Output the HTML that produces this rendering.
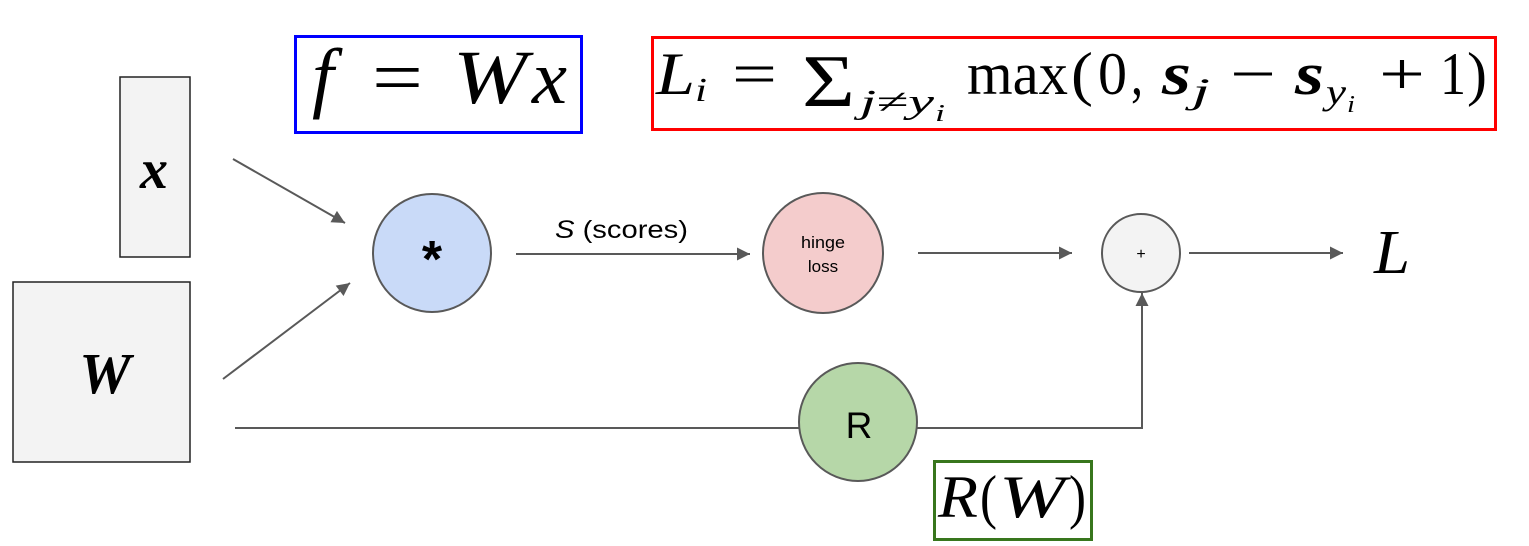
<!DOCTYPE html>
<html><head><meta charset="utf-8"><style>
html,body{margin:0;padding:0;background:#fff;}
svg{display:block;}
text{font-family:"Liberation Serif",serif;}
.sans{font-family:"Liberation Sans",sans-serif;}
</style></head><body>
<svg width="1529" height="546" viewBox="0 0 1529 546" xmlns="http://www.w3.org/2000/svg">
<defs>
<marker id="ah" viewBox="0 0 10 10" refX="10" refY="5" markerWidth="15" markerHeight="13" markerUnits="userSpaceOnUse" orient="auto">
<path d="M0,0 L10,5 L0,10 z" fill="#595959"/>
</marker>
</defs>

<!-- input boxes -->
<rect x="120" y="77" width="70" height="180" fill="#f3f3f3" stroke="#222" stroke-width="1.5"/>
<text x="154" y="188" font-size="56" font-weight="bold" font-style="italic" text-anchor="middle">x</text>
<rect x="13" y="282" width="177" height="180" fill="#f3f3f3" stroke="#222" stroke-width="1.5"/>
<text x="105" y="393" font-size="58" font-weight="bold" font-style="italic" text-anchor="middle">W</text>

<!-- connectors -->
<g stroke="#595959" stroke-width="2" fill="none">
<line x1="233" y1="159" x2="345" y2="223" marker-end="url(#ah)"/>
<line x1="223" y1="379" x2="350" y2="283" marker-end="url(#ah)"/>
<line x1="516" y1="254" x2="750" y2="254" marker-end="url(#ah)"/>
<line x1="918" y1="253" x2="1072" y2="253" marker-end="url(#ah)"/>
<line x1="1189" y1="253" x2="1343" y2="253" marker-end="url(#ah)"/>
<polyline points="235,428 1142,428 1142,293" marker-end="url(#ah)"/>
</g>

<!-- nodes -->
<circle cx="432" cy="253" r="59" fill="#c9daf8" stroke="#595959" stroke-width="2"/>
<text class="sans" x="432" y="277" font-size="52" font-weight="bold" text-anchor="middle">*</text>

<circle cx="823" cy="253" r="60" fill="#f4cccc" stroke="#595959" stroke-width="2"/>
<text class="sans" x="823" y="248" font-size="17" text-anchor="middle" textLength="44" lengthAdjust="spacingAndGlyphs">hinge</text>
<text class="sans" x="823" y="272" font-size="17" text-anchor="middle">loss</text>

<circle cx="1141" cy="253" r="39" fill="#f3f3f3" stroke="#595959" stroke-width="2"/>
<text class="sans" x="1141" y="259" font-size="16" text-anchor="middle">+</text>

<circle cx="858" cy="422" r="59" fill="#b6d7a8" stroke="#595959" stroke-width="2"/>
<text class="sans" x="859" y="438" font-size="37" text-anchor="middle">R</text>

<!-- scores label -->
<text class="sans" x="555" y="238" font-size="25" textLength="133" lengthAdjust="spacingAndGlyphs"><tspan font-style="italic">S</tspan> (scores)</text>

<!-- L output -->
<text x="1374" y="273" font-size="62" font-style="italic" textLength="36" lengthAdjust="spacingAndGlyphs">L</text>

<!-- f = Wx box -->
<rect x="295.5" y="36.5" width="286" height="96" fill="#fff" stroke="#0000ff" stroke-width="3"/>
<text x="312" y="103" font-size="78" font-style="italic">f</text>
<text x="372" y="103" font-size="76" textLength="51" lengthAdjust="spacingAndGlyphs">=</text>
<text x="453" y="103" font-size="76" font-style="italic" textLength="74" lengthAdjust="spacingAndGlyphs">W</text>
<text x="532" y="103" font-size="76" font-style="italic" textLength="35" lengthAdjust="spacingAndGlyphs">x</text>

<!-- loss formula box -->
<rect x="652.5" y="37.5" width="843" height="92" fill="#fff" stroke="#ff0000" stroke-width="3"/>
<g>
<text x="656" y="94" font-size="60" font-style="italic" textLength="39" lengthAdjust="spacingAndGlyphs">L</text>
<text x="695" y="101" font-size="34" font-style="italic" textLength="12" lengthAdjust="spacingAndGlyphs">i</text>
<text x="732" y="94" font-size="60" textLength="45" lengthAdjust="spacingAndGlyphs">=</text>
<text x="802" y="106" font-size="74" textLength="53" lengthAdjust="spacingAndGlyphs">Σ</text>
<text x="860" y="113" font-size="34" font-style="italic" textLength="74" lengthAdjust="spacingAndGlyphs">j≠y</text>
<text x="935" y="121" font-size="24" font-style="italic" textLength="10" lengthAdjust="spacingAndGlyphs">i</text>
<text x="967" y="94" font-size="60" textLength="101" lengthAdjust="spacingAndGlyphs">max</text>
<text x="1071" y="94" font-size="60" textLength="22" lengthAdjust="spacingAndGlyphs">(</text>
<text x="1098" y="94" font-size="60" textLength="29" lengthAdjust="spacingAndGlyphs">0</text>
<text x="1131" y="94" font-size="60" textLength="12" lengthAdjust="spacingAndGlyphs">,</text>
<text x="1162" y="94" font-size="60" font-style="italic" font-weight="bold" textLength="29" lengthAdjust="spacingAndGlyphs">s</text>
<text x="1192" y="103" font-size="36" font-style="italic" textLength="18" lengthAdjust="spacingAndGlyphs">j</text>
<text x="1230" y="94" font-size="60" textLength="46" lengthAdjust="spacingAndGlyphs">−</text>
<text x="1295" y="94" font-size="60" font-style="italic" font-weight="bold" textLength="29" lengthAdjust="spacingAndGlyphs">s</text>
<text x="1326" y="104" font-size="36" font-style="italic" textLength="20" lengthAdjust="spacingAndGlyphs">y</text>
<text x="1347" y="112" font-size="24" font-style="italic" textLength="8" lengthAdjust="spacingAndGlyphs">i</text>
<text x="1379" y="94" font-size="60" textLength="46" lengthAdjust="spacingAndGlyphs">+</text>
<text x="1440" y="94" font-size="60" textLength="26" lengthAdjust="spacingAndGlyphs">1</text>
<text x="1467" y="94" font-size="60" textLength="20" lengthAdjust="spacingAndGlyphs">)</text>
</g>

<!-- R(W) box -->
<rect x="934.5" y="461.5" width="157" height="78" fill="#fff" stroke="#38761d" stroke-width="3"/>
<text x="938" y="517" font-size="60" font-style="italic" textLength="40" lengthAdjust="spacingAndGlyphs">R</text>
<text x="980" y="517" font-size="60" textLength="17" lengthAdjust="spacingAndGlyphs">(</text>
<text x="999" y="517" font-size="60" font-style="italic" textLength="66" lengthAdjust="spacingAndGlyphs">W</text>
<text x="1069" y="517" font-size="60" textLength="17" lengthAdjust="spacingAndGlyphs">)</text>
</svg>
</body></html>
